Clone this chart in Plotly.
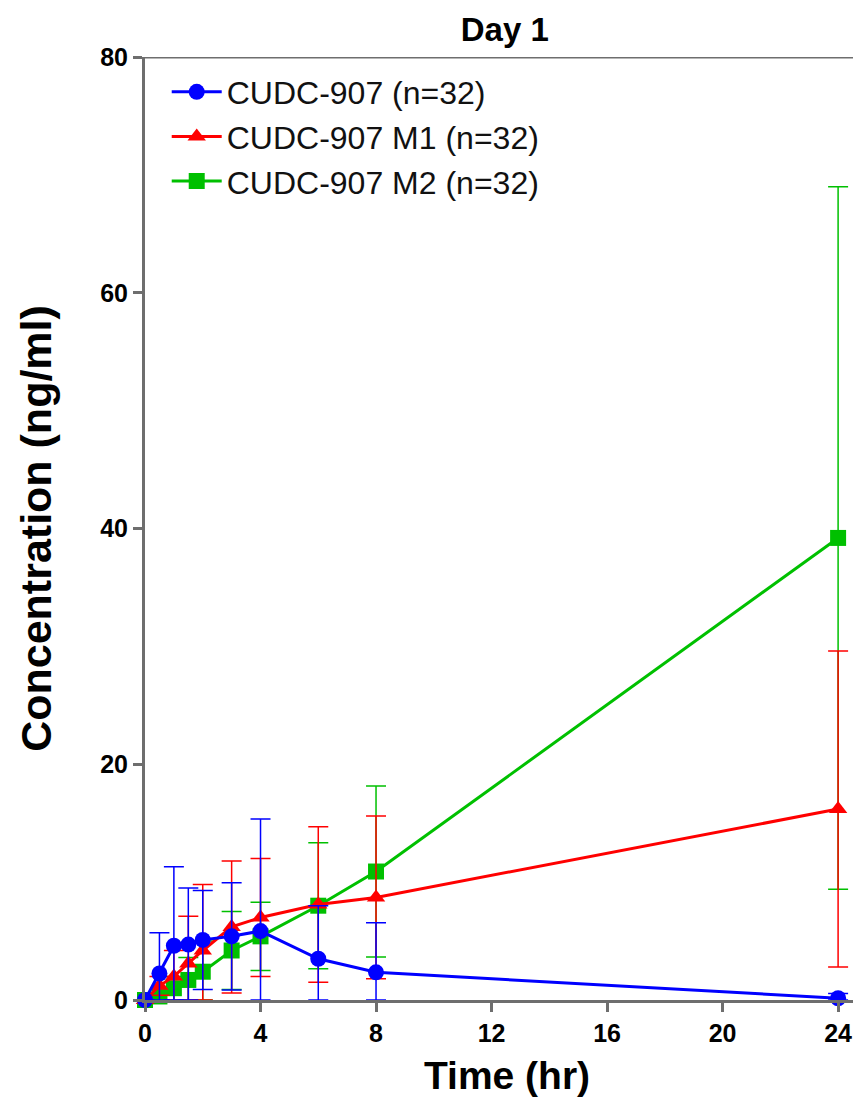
import numpy as np
import plotly.graph_objects as go

time_hr = [0, 0.5, 1, 1.5, 2, 3, 4, 6, 8, 24]

cudc_mean = [0, 2.25, 4.6, 4.7, 5.1, 5.4, 5.85, 3.5, 2.35, 0.15]
cudc_sd = [0, 3.45, 6.7, 4.8, 4.2, 4.55, 9.5, 4.5, 4.2, 0.4]

m1_mean = [0, 1.2, 2.0, 3.1, 4.2, 6.2, 7.0, 8.1, 8.7, 16.2]
m1_sd = [0, 0.8, 2.2, 4.0, 5.6, 5.6, 5.0, 6.6, 6.9, 13.4]

m2_mean = [0, 0.3, 1.0, 1.7, 2.4, 4.2, 5.4, 8.0, 10.9, 39.2]
m2_sd = [0, 0.3, 1.0, 1.9, 2.6, 3.3, 2.9, 5.35, 7.25, 29.8]

series_names = ["CUDC-907 (n=32)", "CUDC-907 M1 (n=32)", "CUDC-907 M2 (n=32)"]
x_ticks = [0, 4, 8, 12, 16, 20, 24]
y_ticks = [0, 20, 40, 60, 80]

fig = go.Figure()

specs = [
    (m2_mean, m2_sd, series_names[2], "#00C000", "square", 16, 3),
    (m1_mean, m1_sd, series_names[1], "#FF0000", "triangle-up", 16, 2),
    (cudc_mean, cudc_sd, series_names[0], "#0000FF", "circle", 16, 1),
]
for mean, sd, name, color, sym, size, rank in specs:
    m = np.array(mean, dtype=float)
    s = np.array(sd, dtype=float)
    fig.add_trace(go.Scatter(
        x=time_hr, y=m, name=name, mode="lines+markers",
        line=dict(color=color, width=3),
        marker=dict(color=color, symbol=sym, size=size),
        error_y=dict(type="data", symmetric=False, array=s,
                     arrayminus=np.minimum(s, m), color=color,
                     thickness=1.5, width=10),
        cliponaxis=False, legendrank=rank,
    ))

FONT = "Liberation Sans, Arial, sans-serif"
axis_font = dict(family=FONT, size=25, color="black")

fig.update_layout(
    width=861, height=1105,
    margin=dict(l=137, r=0, t=49, b=113),
    plot_bgcolor="white", paper_bgcolor="white",
    title=dict(text="<b>Day 1</b>", x=0.577, xanchor="center", y=0.981, yanchor="middle",
               font=dict(family=FONT, size=33, color="black")),
    legend=dict(x=0.03, y=0.992, xanchor="left", yanchor="top",
                bgcolor="rgba(0,0,0,0)", tracegroupgap=0,
                font=dict(family=FONT, size=32, color="#111111"),
                itemwidth=50),
    showlegend=True,
)

fig.update_xaxes(
    range=[0, 25.07], tickvals=x_ticks, ticktext=[f"<b>{v}</b>" for v in x_ticks],
    showgrid=False, zeroline=False, showline=True, linecolor="#6e6e6e", linewidth=3,
    ticks="outside", ticklen=9, tickwidth=3, tickcolor="#6e6e6e",
    tickfont=axis_font,
    title=dict(text="<b>Time (hr)</b>", standoff=16,
               font=dict(family=FONT, size=39, color="black")),
)
fig.update_yaxes(
    range=[0, 80], tickvals=y_ticks, ticktext=[f"<b>{v}</b>" for v in y_ticks],
    showgrid=False, zeroline=False, showline=True, linecolor="#6e6e6e", linewidth=3,
    ticks="outside", ticklen=9, tickwidth=3, tickcolor="#6e6e6e",
    tickfont=axis_font,
    title=dict(text="<b>Concentration (ng/ml)</b>", standoff=36,
               font=dict(family=FONT, size=43, color="black")),
)

fig.add_shape(type="line", xref="paper", yref="y", x0=0, x1=1, y0=80, y1=80,
              line=dict(color="#6e6e6e", width=3))

fig.write_html("out.html")
